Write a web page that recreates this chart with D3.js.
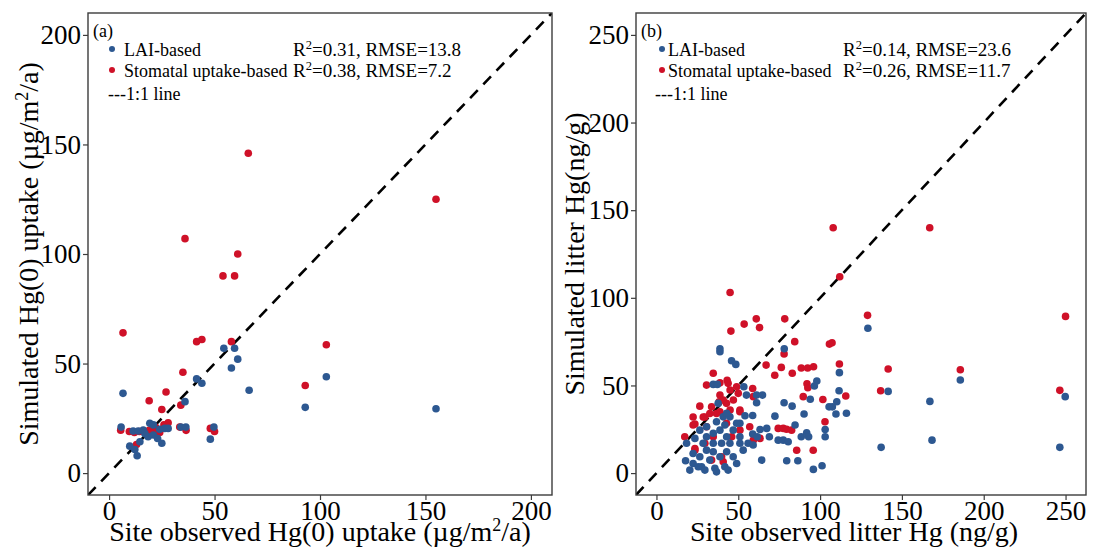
<!DOCTYPE html>
<html>
<head>
<meta charset="utf-8">
<script src="https://cdn.jsdelivr.net/npm/d3@7"></script>
<style>
	body { margin: 0; background: #fff; }
	svg text { font-family: "Liberation Serif", "Times New Roman", serif; fill: #000; }
</style>
</head>
<body>
<svg width="1104" height="549"></svg>
<script>
// panel (a): Hg(0) uptake, observed vs simulated
var upObsStom = [66, 155, 36, 61, 54, 59.5, 6.6, 41.5, 44, 58, 103, 35, 93, 19, 27, 25, 34, 28, 5.5, 9.6, 12, 14.4, 16.7, 19, 21.5, 24, 36.5, 48, 50, 13, 33.5, 22, 26];
var upSimStom = [146, 125, 107, 100, 90, 90, 64, 60, 61, 60, 58.6, 46, 40, 33, 37, 29, 31, 23, 19.6, 19, 18.5, 19, 18.8, 19.5, 19, 18.5, 19.5, 20.4, 19, 13, 21, 21, 22];
var upObsLai = [54.4, 59.5, 61, 58, 41.5, 44, 103, 6.6, 66.4, 93, 155, 36, 5.7, 11.4, 13.8, 16.2, 19.3, 21, 18.5, 21, 23, 25, 26.4, 28, 34, 36.4, 49.7, 48, 9.8, 12.2, 13.3, 14.6, 24, 17];
var upSimLai = [57, 57, 52, 48, 43, 41, 44, 36.4, 37.8, 30, 29.4, 32.6, 21, 19.2, 19.2, 19.6, 22.7, 22, 16.6, 17.4, 15.8, 13.6, 20.4, 20.4, 21, 21, 21, 15.5, 12.3, 10.8, 7.9, 14.3, 20, 18];

// panel (b): litter Hg, observed vs simulated
var litObsStom = [112, 45, 53.6, 61, 63, 45.5, 78.4, 84.5, 105.7, 107.3, 78, 67, 76.3, 72.3, 83, 88.5, 92.4, 96, 111.8, 92, 92.5, 89.7, 101.7, 115.7, 103, 95.8, 108, 167, 129, 141.6, 185.7, 137, 246.5, 250,
	34.7, 30.6, 38.8, 43.2, 49, 58.8, 26.5, 33.7, 38.3, 42.8, 47, 22.4, 23.5, 29.6, 36.7, 45, 17.3, 23.5, 29.6, 34.7, 42.8, 51, 59.2, 46, 40.8, 51, 74.4, 77.5, 79.5, 82.6, 59.2,
	43.8, 38.8, 45, 50, 40.8, 28.6, 32.6, 38.8, 51, 22.4, 30.6, 57, 63.3, 85.7, 23.5, 39.8, 33.7];
var litSimStom = [112, 103, 85, 88, 83, 81, 88, 75, 73.6, 74.4, 68, 61.6, 60.3, 55.8, 57, 60, 60, 60.7, 62.2, 51, 48.7, 43.6, 42, 44, 29.3, 13, 140, 140, 90, 59.4, 59, 47, 47.2, 89.4,
	57, 50.2, 51.5, 53, 49.3, 48.3, 38.2, 37.8, 40.7, 39.8, 41.7, 32, 28, 32, 34, 36, 20.7, 13, 17, 20.7, 28.4, 36, 43.6, 20.7, 6.5, 24.5, 25.5, 25.5, 25, 24.5, 18.8,
	51.2, 44.5, 47.4, 45.5, 41.7, 32, 34, 35, 35, 27.4, 26.4, 26.4, 19.8, 13, 14, 9.3, 7.4];
var litObsLai = [38.8, 38.8, 78.1, 45.9, 48.5, 34.7, 37.2, 53.4, 55, 61.2, 64.8, 61.2, 78, 82.9, 98, 96.5, 111.8, 111.6, 94, 107.5, 109.7, 110.2, 116.1, 90.2, 72.4, 84.7, 67.4, 63.3, 54.1, 58.8, 51, 58.8, 61.6, 69, 74.4, 77.5, 80.5, 88.5, 91.8, 93, 103.1, 79.6, 86.4, 95.9, 101.2, 64.3, 56, 59.1,
	17.8, 22.4, 22.4, 26.5, 27.6, 30.6, 32.6, 35.7, 36.7, 38.8, 41.8, 42.9, 46.9, 49, 30.6, 34.7, 38.8, 42.9, 46.9, 51, 36.7, 40.8, 44.9, 49, 51, 26.5, 30.6, 23.5, 34.7, 39.8, 44.9, 34.7, 28.5, 41.8, 25.5, 53, 18.4, 20.4, 29.6, 43.8, 37.7, 42.9,
	129.2, 141.6, 185.7, 167.1, 249.8, 168.4, 137.3, 246.5, 105.5, 103.1];
var litSimLai = [70.9, 69.2, 70.9, 64.1, 62, 50.6, 50.6, 49.3, 44.5, 44.5, 44.5, 40.1, 40.1, 38.2, 52.5, 49.7, 57.3, 47, 42.1, 37.8, 33.7, 40.7, 34.1, 33.7, 32.5, 27.4, 25.5, 24.9, 32.7, 32.9, 28.4, 22.3, 20.7, 20.7, 18.8, 18.8, 17.9, 20.7, 23, 20.7, 24.9, 7, 7, 2.1, 4.2, 7.4, 17, 16,
	7, 11.2, 5.5, 9.3, 3.6, 13.1, 7.4, 2.7, 0.7, 9.3, 3.6, 12.2, 9.3, 5.5, 20.7, 22.7, 24.5, 20.7, 24.5, 20.7, 29.3, 32.1, 32.1, 28.4, 17, 24.5, 26.4, 19.8, 17, 17, 17, 12.2, 17, 27.4, 3.6, 13.1, 17, 1.7, 1.7, 1.7, 39.8, 34.1,
	82.6, 46.6, 53.1, 40.9, 43.6, 18.8, 14.7, 14.7, 37.8, 20.7];

var ticksA = [0, 50, 100, 150, 200];
var ticksB = [0, 50, 100, 150, 200, 250];

var blue = "#2d5891";
var red = "#cf1128";

var svg = d3.select("svg");

function drawPanel(p) {
	var x = d3.scaleLinear().domain(p.domain).range([p.left, p.right]);
	var y = d3.scaleLinear().domain(p.domain).range([p.bottom, p.top]);
	var g = svg.append("g");

	g.append("clipPath")
		.attr("id", "clip" + p.id)
		.append("rect")
		.attr("x", p.left)
		.attr("y", p.top)
		.attr("width", p.right - p.left)
		.attr("height", p.bottom - p.top);

	var inner = g.append("g").attr("clip-path", "url(#clip" + p.id + ")");

	// 1:1 line
	inner.append("line")
		.attr("x1", x(p.domain[0]))
		.attr("y1", y(p.domain[0]))
		.attr("x2", x(p.domain[1]))
		.attr("y2", y(p.domain[1]))
		.attr("stroke", "#000")
		.attr("stroke-width", 2.6)
		.attr("stroke-dasharray", "11,8");

	inner.selectAll(".stom")
		.data(d3.zip(p.stomX, p.stomY))
		.enter().append("circle")
		.attr("class", "stom")
		.attr("cx", function(d) { return x(d[0]); })
		.attr("cy", function(d) { return y(d[1]); })
		.attr("r", 3.8)
		.attr("fill", red);

	inner.selectAll(".lai")
		.data(d3.zip(p.laiX, p.laiY))
		.enter().append("circle")
		.attr("class", "lai")
		.attr("cx", function(d) { return x(d[0]); })
		.attr("cy", function(d) { return y(d[1]); })
		.attr("r", 3.8)
		.attr("fill", blue);

	// frame
	g.append("rect")
		.attr("x", p.left)
		.attr("y", p.top)
		.attr("width", p.right - p.left)
		.attr("height", p.bottom - p.top)
		.attr("fill", "none")
		.attr("stroke", "#3c3c3c")
		.attr("stroke-width", 1.4);

	var xAxis = g.append("g")
		.attr("transform", "translate(0," + p.bottom + ")")
		.call(d3.axisBottom(x).tickValues(p.ticks).tickSize(5).tickPadding(1));
	var yAxis = g.append("g")
		.attr("transform", "translate(" + p.left + ",0)")
		.call(d3.axisLeft(y).tickValues(p.ticks).tickSize(5).tickPadding(2));

	[xAxis, yAxis].forEach(function(a) {
		a.attr("font-family", null).attr("font-size", null);
		a.select(".domain").remove();
		a.selectAll("line").attr("stroke", "#3c3c3c").attr("stroke-width", 1.2);
		a.selectAll("text")
			.style("font-family", "'Liberation Serif', serif")
			.style("font-size", "27px")
			.attr("fill", "#000");
	});

	// axis titles
	var xt = g.append("text")
		.attr("x", (p.left + p.right) / 2 + p.xTitleDx)
		.attr("y", 541)
		.attr("text-anchor", "middle")
		.style("font-size", "28px");
	p.xTitle(xt);

	var yt = g.append("text")
		.attr("transform", "translate(" + p.yTitleX + "," + (p.top + p.bottom) / 2 + ") rotate(-90)")
		.attr("text-anchor", "middle")
		.style("font-size", "28px");
	p.yTitle(yt);

	// panel tag and legend
	g.append("text")
		.attr("x", p.left + 5)
		.attr("y", 37)
		.style("font-size", "18px")
		.text(p.tag);

	var rows = [
		{ color: blue, label: "LAI-based", r2: p.stats[0][0], rmse: p.stats[0][1], y: 50 },
		{ color: red, label: "Stomatal uptake-based", r2: p.stats[1][0], rmse: p.stats[1][1], y: 71 }
	];
	rows.forEach(function(r) {
		g.append("circle")
			.attr("cx", p.left + p.bulletDx)
			.attr("cy", r.y - 1)
			.attr("r", 3)
			.attr("fill", r.color);
		g.append("text")
			.attr("x", p.left + p.textDx)
			.attr("y", r.y + 6)
			.style("font-size", "18px")
			.text(r.label);
		var t = g.append("text")
			.attr("x", p.left + p.statDx)
			.attr("y", r.y + 6)
			.style("font-size", "19px");
		t.append("tspan").text("R");
		t.append("tspan").attr("dy", -7).style("font-size", "12.5px").text("2");
		t.append("tspan").attr("dy", 7).text("=" + r.r2 + ", RMSE=" + r.rmse);
	});
	g.append("text")
		.attr("x", p.left + p.lineDx)
		.attr("y", 100)
		.style("font-size", "18px")
		.text("---1:1 line");
}

function supUnit(t, before, after) {
	t.append("tspan").text(before);
	t.append("tspan").attr("dy", -10).style("font-size", "18px").text("2");
	t.append("tspan").attr("dy", 10).text(after);
}

drawPanel({
	id: "a", tag: "(a)",
	domain: [-10, 210], ticks: ticksA,
	left: 88, right: 552, top: 13, bottom: 495,
	stomX: upObsStom, stomY: upSimStom, laiX: upObsLai, laiY: upSimLai,
	stats: [["0.31", "13.8"], ["0.38", "7.2"]],
	bulletDx: 24, textDx: 36, statDx: 205, lineDx: 20,
	yTitleX: 38, xTitleDx: 0,
	xTitle: function(t) { supUnit(t, "Site observed Hg(0) uptake (\u00b5g/m", "/a)"); },
	yTitle: function(t) { supUnit(t, "Simulated Hg(0) uptake (\u00b5g/m", "/a)"); }
});

drawPanel({
	id: "b", tag: "(b)",
	domain: [-12.5, 262.5], ticks: ticksB,
	left: 636, right: 1086, top: 13, bottom: 495,
	stomX: litObsStom, stomY: litSimStom, laiX: litObsLai, laiY: litSimLai,
	stats: [["0.14", "23.6"], ["0.26", "11.7"]],
	bulletDx: 26, textDx: 32, statDx: 207, lineDx: 19,
	yTitleX: 584, xTitleDx: -7,
	xTitle: function(t) { t.text("Site observed litter Hg (ng/g)"); },
	yTitle: function(t) { t.text("Simulated litter Hg(ng/g)"); }
});
</script>
</body>
</html>
